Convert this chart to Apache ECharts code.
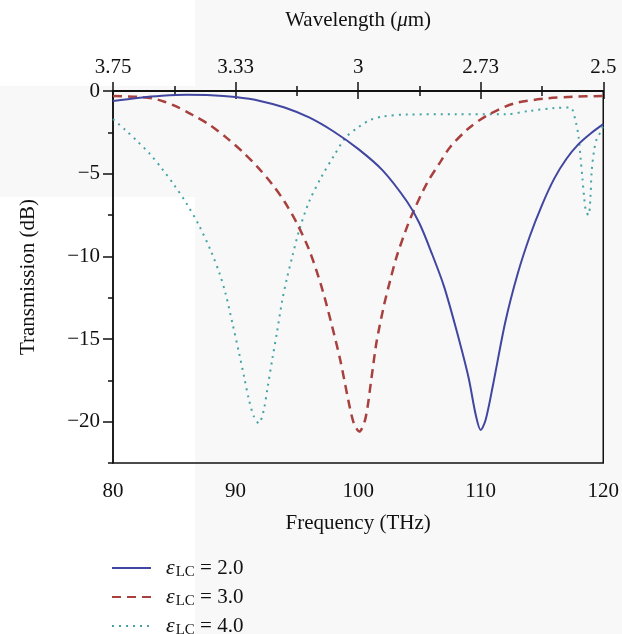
<!DOCTYPE html>
<html>
<head>
<meta charset="utf-8">
<script src="https://cdn.jsdelivr.net/npm/echarts@6/dist/echarts.min.js"></script>
<style>
html,body{margin:0;padding:0;background:#f8f8f8;}
#chart{width:622px;height:634px;}
</style>
</head>
<body>
<div id="chart"></div>
<script>
// ---- data ----
var seriesNames = ['2.0', '3.0', '4.0'];

var eps2Freq = [80, 82, 84, 86, 88, 90, 92, 94, 96, 98, 100, 102, 104, 105, 106, 107, 108, 109, 109.6, 110, 110.4, 111, 112, 113, 114, 115, 116, 117, 118, 119, 120];
var eps2Val  = [-0.6, -0.42, -0.29, -0.23, -0.25, -0.37, -0.6, -1.0, -1.6, -2.45, -3.5, -4.8, -6.7, -8.0, -9.8, -11.8, -14.4, -17.3, -19.6, -20.5, -19.9, -17.8, -14.0, -11.1, -8.8, -6.9, -5.3, -4.1, -3.2, -2.55, -2.0];

var eps3Freq = [80, 82, 83.2, 84.2, 85.2, 86.5, 87.9, 89.3, 90.6, 91.8, 93, 94, 95, 96, 97, 97.9, 98.55, 99.2, 99.65, 100.1, 100.6, 101.1, 101.5, 102.1, 102.6, 103.15, 104, 104.5, 105.6, 106.7, 107.5, 109, 110.6, 112.75, 115.5, 117.5, 120];
var eps3Val  = [-0.3, -0.35, -0.44, -0.65, -0.95, -1.45, -2.06, -2.85, -3.7, -4.6, -5.65, -6.7, -8.0, -9.6, -11.8, -14.3, -16.3, -18.7, -20.1, -20.6, -19.8, -17.3, -15.2, -13.0, -11.5, -10.0, -8.2, -7.3, -5.6, -4.3, -3.4, -2.27, -1.45, -0.75, -0.44, -0.35, -0.3];

var eps4Freq = [80, 81, 82, 83, 84, 85, 86, 87, 88, 88.7, 89.2, 89.76, 90.3, 90.7, 91.1, 91.5, 91.9, 92.3, 92.6, 93, 93.4, 93.8, 94.2, 94.6, 95.2, 96, 97, 98, 99, 100, 101, 102, 104, 108, 112, 114, 116, 117.3, 117.75, 118, 118.15, 118.3, 118.45, 118.6, 118.8, 118.95, 119.05, 119.25, 119.45, 119.8, 120];
var eps4Val  = [-1.7, -2.35, -3.05, -3.8, -4.7, -5.7, -6.8, -8.1, -9.7, -11.05, -12.3, -14.1, -15.9, -17.3, -18.7, -19.7, -20.1, -19.3, -18.0, -16.2, -14.5, -12.7, -11.3, -10.1, -8.4, -6.7, -5.2, -3.95, -2.8, -2.2, -1.75, -1.55, -1.42, -1.41, -1.41, -1.2, -1.03, -1.0, -1.84, -2.85, -4.06, -5.27, -6.5, -7.3, -7.5, -6.5, -4.9, -3.6, -2.95, -2.45, -2.1];

var freqTicks = [80, 90, 100, 110, 120];
var wavelengthLabels = ['3.75', '3.33', '3', '2.73', '2.5'];

// ---- chart ----
function pairs(xs, ys) { return xs.map(function (x, i) { return [x, ys[i]]; }); }
var FONT = 'Liberation Serif';
var black = '#111';

var chart = echarts.init(document.getElementById('chart'), null, {renderer: 'canvas'});
var axisLineStyle = {color: black, width: 1.5};

chart.setOption({
  backgroundColor: '#f8f8f8',
  animation: false,
  textStyle: {fontFamily: FONT, color: black},
  graphic: [
    {type: 'rect', z: -10, shape: {x: 0, y: 0, width: 195, height: 86}, style: {fill: '#ffffff'}},
    {type: 'rect', z: -10, shape: {x: 0, y: 197, width: 195, height: 437}, style: {fill: '#ffffff'}}
  ],
  grid: {left: 113, right: 16, top: 91, bottom: 171, show: true, borderColor: black, borderWidth: 1.5, backgroundColor: 'transparent'},
  legend: {
    orient: 'vertical', left: 106, top: 552, height: 120,
    itemWidth: 39, itemHeight: 14, itemGap: 6,
    itemStyle: {color: 'transparent', borderColor: 'transparent', borderWidth: 0, opacity: 0},
    data: seriesNames.map(function (n) { return 'ε' + n; }),
    formatter: function (name) { return '{e|ε}{s|LC}{t| = ' + name.slice(1) + '}'; },
    textStyle: {
      fontFamily: FONT, color: black, fontSize: 21,
      rich: {
        e: {fontFamily: FONT, fontStyle: 'italic', fontSize: 22, color: black, padding: [0, 0, 0, 10]},
        s: {fontFamily: FONT, fontSize: 15, color: black, padding: [9, 0, 0, 1]},
        t: {fontFamily: FONT, fontSize: 21, color: black}
      }
    }
  },
  xAxis: [
    {
      type: 'value', position: 'bottom', min: 80, max: 120, interval: 10,
      name: 'Frequency (THz)', nameLocation: 'middle', nameGap: 50,
      nameTextStyle: {fontFamily: FONT, fontSize: 21, color: black},
      axisLine: {lineStyle: axisLineStyle},
      axisTick: {length: 8, lineStyle: axisLineStyle},
      minorTick: {show: true, splitNumber: 2, length: 5, lineStyle: {color: black, width: 1.5}},
      axisLabel: {fontFamily: FONT, fontSize: 21, color: black, margin: 18},
      splitLine: {show: false}
    },
    {
      type: 'value', position: 'top', min: 80, max: 120, interval: 10,
      name: 'Wavelength ({i|μ}m)', nameLocation: 'middle', nameGap: 60,
      nameTextStyle: {fontFamily: FONT, fontSize: 21, color: black,
        rich: {i: {fontFamily: FONT, fontSize: 21, fontStyle: 'italic', color: black}}},
      axisLine: {lineStyle: axisLineStyle},
      axisTick: {length: 9, lineStyle: axisLineStyle},
      minorTick: {show: true, splitNumber: 2, length: 5, lineStyle: {color: black, width: 1.5}},
      axisLabel: {fontFamily: FONT, fontSize: 21, color: black, margin: 13,
        formatter: function (v) { var i = freqTicks.indexOf(v); return i >= 0 ? wavelengthLabels[i] : ''; }},
      splitLine: {show: false}
    }
  ],
  yAxis: [
    {
      type: 'value', position: 'left', min: -22.5, max: 0, interval: 2.5,
      axisLine: {lineStyle: axisLineStyle},
      axisTick: {length: 5, lineStyle: axisLineStyle},
      axisLabel: {show: false},
      splitLine: {show: false}
    },
    {
      type: 'value', position: 'left', inverse: true, min: 0, max: 22.5, interval: 5,
      name: 'Transmission (dB)', nameLocation: 'middle', nameGap: 74,
      nameTextStyle: {fontFamily: FONT, fontSize: 21, color: black},
      axisLine: {show: false},
      axisTick: {length: 10, lineStyle: axisLineStyle},
      axisLabel: {fontFamily: FONT, fontSize: 21, color: black, margin: 13, showMaxLabel: false,
        formatter: function (v) { return v === 0 ? '0' : '\u2212' + v; }},
      splitLine: {show: false}
    }
  ],
  series: [
    {
      name: 'ε' + seriesNames[0], type: 'line', xAxisIndex: 0, yAxisIndex: 0,
      data: pairs(eps2Freq, eps2Val), smooth: 0.3, symbol: 'none',
      lineStyle: {color: '#4146a0', width: 2}, itemStyle: {color: '#4146a0'}, z: 3
    },
    {
      name: 'ε' + seriesNames[1], type: 'line', xAxisIndex: 0, yAxisIndex: 0,
      data: pairs(eps3Freq, eps3Val), smooth: 0.3, symbol: 'none',
      lineStyle: {color: '#a8403e', width: 2.5, type: [9, 6]}, itemStyle: {color: '#a8403e'}, z: 2
    },
    {
      name: 'ε' + seriesNames[2], type: 'line', xAxisIndex: 0, yAxisIndex: 0,
      data: pairs(eps4Freq, eps4Val), smooth: 0.3, symbol: 'none',
      lineStyle: {color: '#44a3a3', width: 2, type: [2, 5]}, itemStyle: {color: '#44a3a3'}, z: 1
    }
  ]
});
</script>
</body>
</html>
